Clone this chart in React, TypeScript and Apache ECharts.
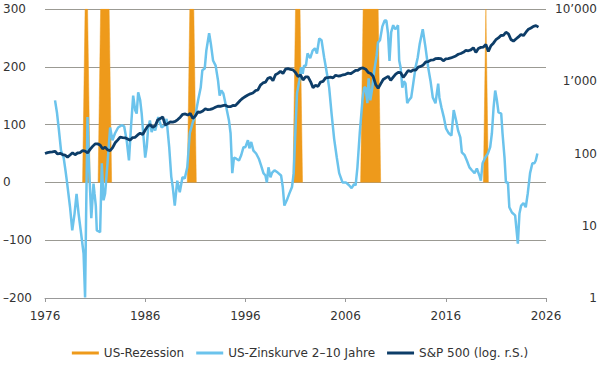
import React, { useEffect, useRef } from "react";
import * as echarts from "echarts";

// X axis ticks (years)
const xTicks = [1976, 1986, 1996, 2006, 2016, 2026];

// US recessions: [start of full height, end of full height] in decimal years
const recessions: [number, number][] = [
  [1980.0, 1980.25],
  [1981.55, 1982.4],
  [1990.45, 1990.85],
  [2001.0, 2001.45],
  [2007.75, 2009.25],
  [2020.0, 2020.0],
];
const recessionRamp = 0.25;
const recessionHeight = 300;

// US yield curve 2-10 years (bp): [decimal year, value]
const yieldCurve: [number, number][] = [
  [1977.0, 142], [1977.2, 120], [1977.36, 95], [1977.6, 55], [1977.86, 43],
  [1978.05, 20], [1978.2, 0], [1978.5, -43], [1978.72, -83], [1978.95, -54],
  [1979.15, -20], [1979.35, -54], [1979.6, -88], [1979.85, -123], [1980.0, -199],
  [1980.1, -60], [1980.24, 113], [1980.4, 26], [1980.62, -62], [1980.84, -2],
  [1980.94, -19], [1981.07, -40], [1981.17, -83], [1981.5, -86], [1981.67, 33],
  [1981.84, -31], [1982.0, -19], [1982.26, 38], [1982.5, 95], [1982.73, 73],
  [1982.99, 85], [1983.3, 95], [1983.65, 99], [1983.9, 97], [1984.15, 73],
  [1984.38, 38], [1984.58, 95], [1984.8, 150], [1985.0, 125], [1985.15, 119],
  [1985.3, 156], [1985.5, 142], [1985.65, 119], [1985.8, 85], [1986.0, 43],
  [1986.15, 61], [1986.3, 95], [1986.47, 107], [1986.64, 87], [1986.8, 95],
  [1987.0, 90], [1987.13, 99], [1987.3, 113], [1987.63, 95], [1987.96, 99],
  [1988.13, 110], [1988.4, 60], [1988.6, 10], [1988.75, -8], [1988.95, -40],
  [1989.2, 3], [1989.45, -17], [1989.72, 9], [1989.95, 7], [1990.2, 26],
  [1990.45, 85], [1990.72, 102], [1991.04, 119], [1991.28, 142], [1991.54, 164],
  [1991.7, 194], [1991.94, 197], [1992.1, 228], [1992.38, 258], [1992.55, 240],
  [1992.77, 211], [1993.03, 202], [1993.27, 176], [1993.43, 150], [1993.6, 159],
  [1993.8, 154], [1994.09, 130], [1994.36, 107], [1994.52, 85], [1994.69, 16],
  [1994.86, 43], [1995.09, 41], [1995.36, 38], [1995.58, 47], [1995.81, 61],
  [1996.0, 61], [1996.25, 73], [1996.4, 59], [1996.58, 70], [1996.8, 55],
  [1997.07, 50], [1997.34, 41], [1997.57, 29], [1997.8, 16], [1998.0, 12],
  [1998.14, 0], [1998.3, 26], [1998.5, 9], [1998.67, 17], [1998.9, 21],
  [1999.23, 17], [1999.56, 12], [1999.73, -8], [1999.89, -40], [2000.13, -31],
  [2000.39, -19], [2000.65, -8], [2000.82, 16], [2000.98, 85], [2001.15, 154],
  [2001.38, 176], [2001.55, 199], [2001.72, 188], [2001.85, 202], [2002.04, 202],
  [2002.2, 223], [2002.47, 215], [2002.71, 228], [2002.94, 232], [2003.14, 223],
  [2003.37, 249], [2003.6, 246], [2003.86, 216], [2004.2, 182], [2004.36, 164],
  [2004.6, 119], [2004.86, 75], [2005.12, 43], [2005.36, 16], [2005.69, 0],
  [2006.02, 0], [2006.35, -5], [2006.6, -10], [2006.84, -3], [2007.0, -5],
  [2007.18, 26], [2007.41, 85], [2007.68, 142], [2007.84, 164], [2008.0, 164],
  [2008.17, 137], [2008.3, 180], [2008.47, 142], [2008.67, 164], [2008.83, 190],
  [2009.1, 220], [2009.23, 242], [2009.43, 246], [2009.67, 270], [2009.9, 280],
  [2010.07, 280], [2010.23, 258], [2010.38, 210], [2010.55, 260], [2010.75, 272],
  [2010.95, 265], [2011.1, 268], [2011.23, 272], [2011.35, 211], [2011.49, 199],
  [2011.66, 164], [2011.82, 175], [2011.98, 171], [2012.15, 137], [2012.3, 142],
  [2012.55, 147], [2012.75, 171], [2012.98, 199], [2013.2, 216], [2013.4, 240],
  [2013.7, 265], [2013.97, 234], [2014.24, 199], [2014.47, 176], [2014.7, 147],
  [2014.97, 137], [2015.24, 171], [2015.36, 147], [2015.56, 130], [2015.8, 113],
  [2016.03, 93], [2016.3, 85], [2016.56, 81], [2016.79, 125], [2017.03, 107],
  [2017.22, 90], [2017.45, 78], [2017.6, 52], [2017.88, 47], [2018.1, 38],
  [2018.36, 26], [2018.6, 21], [2018.87, 16], [2019.1, 24], [2019.35, 12],
  [2019.5, 3], [2019.67, 33], [2019.94, 43], [2020.2, 50], [2020.43, 61],
  [2020.6, 85], [2020.77, 130], [2020.93, 159], [2021.1, 142], [2021.26, 121],
  [2021.53, 119], [2021.66, 85], [2021.86, 43], [2022.0, 0], [2022.2, 0],
  [2022.34, -43], [2022.6, -52], [2022.92, -57], [2023.19, -106], [2023.35, -54],
  [2023.52, -40], [2023.75, -36], [2023.98, -43], [2024.18, -19], [2024.41, 16],
  [2024.64, 33], [2024.84, 33], [2024.98, 38], [2025.14, 50],
];

// S&P 500 quarter-end closes, first value = start of 1976
const spStartYear = 1976;
const spQuarterly = [
  100.0,
  102.8, 104.3, 105.2, 107.5,
  98.4, 100.5, 96.5, 95.1,
  89.2, 95.5, 102.5, 96.1,
  101.6, 102.9, 109.3, 107.9,
  102.1, 114.2, 125.5, 135.8,
  136.0, 131.2, 116.2, 122.6,
  112.0, 109.6, 120.4, 140.6,
  153.0, 168.1, 166.1, 164.9,
  159.2, 153.2, 166.1, 167.2,
  180.7, 191.9, 182.1, 211.3,
  238.9, 250.8, 231.3, 242.2,
  291.7, 304.0, 321.8, 247.1,
  258.9, 273.5, 271.9, 277.7,
  294.9, 318.0, 349.2, 353.4,
  339.9, 358.0, 306.1, 330.2,
  375.2, 371.2, 387.9, 417.1,
  403.7, 408.1, 417.8, 435.7,
  451.7, 450.5, 458.9, 466.5,
  445.8, 444.3, 462.7, 459.3,
  500.7, 544.8, 584.4, 615.9,
  645.5, 670.6, 687.3, 740.7,
  757.1, 885.1, 947.3, 970.4,
  1101.8, 1133.8, 1017.0, 1229.2,
  1286.4, 1372.7, 1282.7, 1469.3,
  1498.6, 1454.6, 1436.5, 1320.3,
  1160.3, 1224.4, 1040.9, 1148.1,
  1147.4, 989.8, 815.3, 879.8,
  848.2, 974.5, 996.0, 1111.9,
  1126.2, 1140.8, 1114.6, 1211.9,
  1180.6, 1191.3, 1228.8, 1248.3,
  1294.8, 1270.2, 1335.9, 1418.3,
  1420.9, 1503.4, 1526.8, 1468.4,
  1322.7, 1280.0, 1166.4, 903.3,
  797.9, 919.3, 1057.1, 1115.1,
  1169.4, 1030.7, 1141.2, 1257.6,
  1325.8, 1320.6, 1131.4, 1257.6,
  1408.5, 1362.2, 1440.7, 1426.2,
  1569.2, 1606.3, 1681.6, 1848.4,
  1872.3, 1960.2, 1972.3, 2058.9,
  2067.9, 2063.1, 1920.0, 2043.9,
  2059.7, 2098.9, 2168.3, 2238.8,
  2362.7, 2423.4, 2519.4, 2673.6,
  2640.9, 2718.4, 2914.0, 2506.9,
  2834.4, 2941.8, 2976.7, 3230.8,
  2584.6, 3100.3, 3363.0, 3756.1,
  3972.9, 4297.5, 4307.5, 4766.2,
  4530.4, 3785.4, 3585.6, 3839.5,
  4109.3, 4450.4, 4288.1, 4769.8,
  5254.4, 5460.5, 5762.5, 5881.6,
  5611.9,
];

const leftTicks = [-200, -100, 0, 100, 200, 300];
const rightTicks = [1, 10, 100, 1000, 10000];

const NAME_REC = "US-Rezession";
const NAME_YC = "US-Zinskurve 2\u201310 Jahre";
const NAME_SP = "S&P 500 (log. r.S.)";

const ORANGE = "#EE9A1B";
const LIGHT = "#6BC3EC";
const DARK = "#0D3D68";
const FONT = "DejaVu Sans";

export default function App() {
  const ref = useRef<HTMLDivElement>(null);
  useEffect(() => {
    if (!ref.current) return;
    const chart = echarts.init(ref.current, undefined, { renderer: "svg" });

    const recSeries = recessions.map(([s, e]) => ({
      name: NAME_REC,
      type: "line",
      yAxisIndex: 0,
      symbol: "none",
      silent: true,
      z: 1,
      itemStyle: { color: ORANGE },
      lineStyle: { width: 0.5, color: ORANGE },
      areaStyle: { color: ORANGE, opacity: 1 },
      data: [
        [s - recessionRamp, 0],
        [s, recessionHeight],
        [e, recessionHeight],
        [e + recessionRamp, 0],
      ],
    }));

    const spData = spQuarterly.map((v, i) => [spStartYear + i * 0.25, v]);

    const fmtThousands = (v: number) => {
      const s = String(Math.round(v));
      return s.replace(/\B(?=(\d{3})+(?!\d))/g, "\u2019");
    };

    chart.setOption({
      animation: false,
      textStyle: { fontFamily: FONT },
      grid: { left: 43, right: 54, top: 9, bottom: 82 },
      legend: {
        left: "center",
        top: 342,
        icon: "rect",
        itemWidth: 27,
        itemHeight: 3,
        itemGap: 12,
        textStyle: { fontFamily: FONT, fontSize: 12, color: "#333" },
        data: [
          { name: NAME_REC, itemStyle: { color: ORANGE } },
          { name: NAME_YC, itemStyle: { color: LIGHT } },
          { name: NAME_SP, itemStyle: { color: DARK } },
        ],
      },
      xAxis: {
        type: "value",
        min: xTicks[0],
        max: xTicks[xTicks.length - 1],
        interval: xTicks[1] - xTicks[0],
        axisLine: { show: true, onZero: false, lineStyle: { color: "#999", width: 1 } },
        axisTick: { show: true, length: 4, lineStyle: { color: "#999" } },
        splitLine: { show: false },
        axisLabel: {
          margin: 12,
          fontFamily: FONT,
          fontSize: 12,
          color: "#333",
          formatter: (v: number) => String(v),
        },
      },
      yAxis: [
        {
          type: "value",
          min: leftTicks[0],
          max: leftTicks[leftTicks.length - 1],
          interval: leftTicks[1] - leftTicks[0],
          axisLine: { show: false },
          axisTick: { show: false },
          splitLine: { show: true, lineStyle: { color: "#9b9a93", width: 1 } },
          axisLabel: {
            align: "left",
            margin: 42,
            fontFamily: FONT,
            fontSize: 12,
            color: "#333",
            formatter: (v: number) => (v < 0 ? "\u2013" + Math.abs(v) : String(v)),
          },
        },
        {
          type: "log",
          logBase: 10,
          min: rightTicks[0],
          max: rightTicks[rightTicks.length - 1],
          position: "right",
          axisLine: { show: false },
          axisTick: { show: false },
          splitLine: { show: false },
          axisLabel: {
            align: "right",
            margin: 51,
            fontFamily: FONT,
            fontSize: 12,
            color: "#333",
            formatter: (v: number) => fmtThousands(v),
          },
        },
      ],
      series: [
        ...recSeries,
        {
          name: NAME_YC,
          type: "line",
          yAxisIndex: 0,
          symbol: "none",
          z: 3,
          itemStyle: { color: LIGHT },
          lineStyle: { width: 2.5, color: LIGHT },
          data: yieldCurve,
        },
        {
          name: NAME_SP,
          type: "line",
          yAxisIndex: 1,
          symbol: "none",
          z: 4,
          itemStyle: { color: DARK },
          lineStyle: { width: 2.8, color: DARK },
          data: spData,
        },
      ],
    });
    return () => chart.dispose();
  }, []);
  return (
    <div
      ref={ref}
      style={{ position: "absolute", left: 0, top: 0, width: 600, height: 380, background: "#fff" }}
    />
  );
}
